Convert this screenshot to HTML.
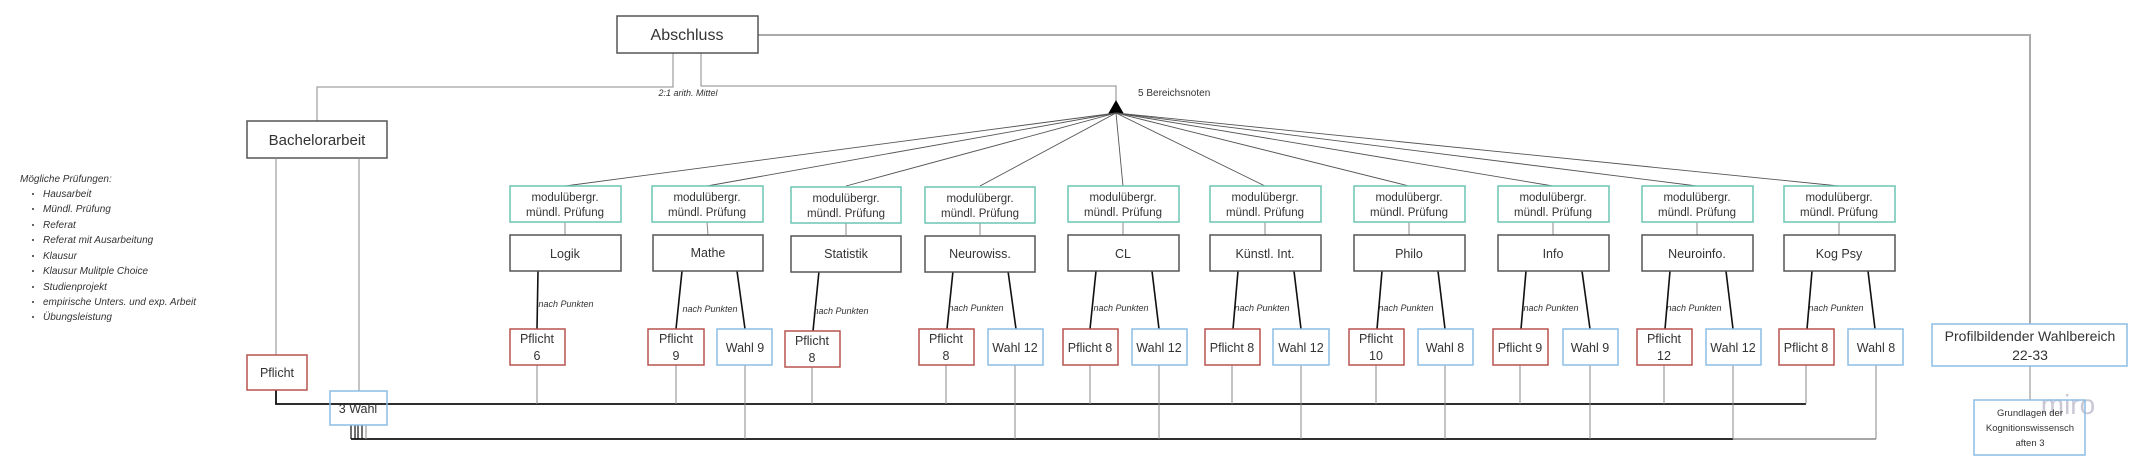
<!DOCTYPE html>
<html><head><meta charset="utf-8"><style>
html,body{margin:0;padding:0;background:#fff;}
svg{display:block;font-family:"Liberation Sans",sans-serif;}
.b{fill:#fff;stroke:#555;stroke-width:1.5}
.t{fill:#fff;stroke:#6cc5b4;stroke-width:1.5}
.r{fill:#fff;stroke:#b85450;stroke-width:1.5}
.u{fill:#fff;stroke:#8cbde6;stroke-width:1.5}
.g{stroke:#888;stroke-width:1;fill:none}
.k{stroke:#111;stroke-width:1.8;fill:none}
.f{stroke:#555;stroke-width:0.9;fill:none}
text{fill:#333;text-anchor:middle}
.m{font-size:12.5px}
.s{font-size:11.5px}
.i{font-size:9px;font-style:italic}
.l{font-size:10px;font-style:italic;text-anchor:start}
</style></head><body>
<svg width="2152" height="464" viewBox="0 0 2152 464">
<polyline class="g" points="758,35 2030,35 2030,324" style="stroke:#aaa;stroke-width:2"/>
<polyline class="g" points="673,53 673,87 317,87 317,121"/>
<polyline class="g" points="701,53 701,86 1116,86 1116,105"/>
<polygon points="1116,100 1108,114 1124,114" fill="#000"/>
<text class="i" x="688" y="96">2:1 arith. Mittel</text>
<text x="1138" y="96" style="font-size:10px;text-anchor:start">5 Bereichsnoten</text>
<g class="f">
<line x1="1116" y1="113" x2="565" y2="186"/><line x1="1116" y1="113" x2="707" y2="186"/>
<line x1="1116" y1="113" x2="846" y2="186"/><line x1="1116" y1="113" x2="980" y2="186"/>
<line x1="1116" y1="113" x2="1123" y2="186"/><line x1="1116" y1="113" x2="1265" y2="186"/>
<line x1="1116" y1="113" x2="1409" y2="186"/><line x1="1116" y1="113" x2="1553" y2="186"/>
<line x1="1116" y1="113" x2="1697" y2="186"/><line x1="1116" y1="113" x2="1839" y2="186"/>
</g>
<rect class="b" x="617" y="16" width="141" height="37"/>
<text x="687" y="40" style="font-size:16px">Abschluss</text>
<rect class="b" x="247" y="121" width="140" height="37"/>
<text x="317" y="145" style="font-size:15px">Bachelorarbeit</text>
<line class="g" x1="276" y1="158" x2="276" y2="355"/>
<line class="g" x1="359" y1="158" x2="359" y2="391"/>
<polyline class="k" points="276,390 276,404 1806,404"/>
<line class="k" x1="351" y1="439" x2="1733" y2="439"/>
<line class="g" x1="1733" y1="439" x2="1876" y2="439" style="stroke:#999;stroke-width:1.8"/>
<g class="k" style="stroke-width:1.2"><line x1="351" y1="425" x2="351" y2="439"/><line x1="355" y1="425" x2="355" y2="439"/><line x1="358" y1="425" x2="358" y2="439"/><line x1="362" y1="425" x2="362" y2="439"/><line x1="366" y1="425" x2="366" y2="439" style="stroke:#999"/></g>
<rect class="r" x="247" y="355" width="60" height="35"/>
<text class="m" x="277" y="377">Pflicht</text>
<rect class="u" x="330" y="391" width="57" height="34" style="fill:none"/>
<text class="m" x="358" y="413">3 Wahl</text>
<text class="l" x="20" y="182">Mögliche Prüfungen:</text>
<g style="font-size:10px;font-style:italic">
<text class="l" x="43" y="197">Hausarbeit</text><text class="l" x="43" y="212">Mündl. Prüfung</text>
<text class="l" x="43" y="228">Referat</text><text class="l" x="43" y="243">Referat mit Ausarbeitung</text>
<text class="l" x="43" y="259">Klausur</text><text class="l" x="43" y="274">Klausur Mulitple Choice</text>
<text class="l" x="43" y="290">Studienprojekt</text><text class="l" x="43" y="305">empirische Unters. und exp. Arbeit</text>
<text class="l" x="43" y="320">Übungsleistung</text>
</g>
<g fill="#333"><circle cx="33" cy="194" r="1"/><circle cx="33" cy="209" r="1"/><circle cx="33" cy="225" r="1"/><circle cx="33" cy="240" r="1"/><circle cx="33" cy="256" r="1"/><circle cx="33" cy="271" r="1"/><circle cx="33" cy="287" r="1"/><circle cx="33" cy="302" r="1"/><circle cx="33" cy="317" r="1"/></g>
<g class="g">
<line x1="537" y1="365" x2="537" y2="404"/>
<line x1="676" y1="365" x2="676" y2="404"/><line x1="745" y1="365" x2="745" y2="439"/>
<line x1="812" y1="367" x2="812" y2="404"/>
<line x1="946" y1="365" x2="946" y2="404"/><line x1="1015" y1="365" x2="1015" y2="439"/>
<line x1="1090" y1="365" x2="1090" y2="404"/><line x1="1159" y1="365" x2="1159" y2="439"/>
<line x1="1232" y1="365" x2="1232" y2="404"/><line x1="1301" y1="365" x2="1301" y2="439"/>
<line x1="1376" y1="365" x2="1376" y2="404"/><line x1="1445" y1="365" x2="1445" y2="439"/>
<line x1="1520" y1="365" x2="1520" y2="404"/><line x1="1590" y1="365" x2="1590" y2="439"/>
<line x1="1664" y1="365" x2="1664" y2="404"/><line x1="1733" y1="365" x2="1733" y2="439"/>
<line x1="1806" y1="365" x2="1806" y2="404"/><line x1="1876" y1="365" x2="1876" y2="439"/>
<line x1="565" y1="222" x2="565" y2="235"/><line x1="707" y1="222" x2="708" y2="235"/>
<line x1="846" y1="222" x2="846" y2="235"/><line x1="980" y1="222" x2="980" y2="235"/>
<line x1="1123" y1="222" x2="1123" y2="235"/><line x1="1265" y1="222" x2="1265" y2="235"/>
<line x1="1409" y1="222" x2="1409" y2="235"/><line x1="1553" y1="222" x2="1553" y2="235"/>
<line x1="1697" y1="222" x2="1697" y2="235"/><line x1="1839" y1="222" x2="1839" y2="235"/>
<line x1="2030" y1="366" x2="2030" y2="400"/>
</g>
<g class="k" style="stroke-width:1.6">
<line x1="538" y1="271" x2="537" y2="329"/>
<line x1="682" y1="271" x2="676" y2="329"/><line x1="737" y1="271" x2="745" y2="329"/>
<line x1="819" y1="271" x2="813" y2="331"/>
<line x1="953" y1="271" x2="947" y2="329"/><line x1="1008" y1="271" x2="1016" y2="329"/>
<line x1="1096" y1="271" x2="1090" y2="329"/><line x1="1152" y1="271" x2="1159" y2="329"/>
<line x1="1238" y1="271" x2="1233" y2="329"/><line x1="1294" y1="271" x2="1301" y2="329"/>
<line x1="1382" y1="271" x2="1377" y2="329"/><line x1="1438" y1="271" x2="1445" y2="329"/>
<line x1="1526" y1="271" x2="1521" y2="329"/><line x1="1582" y1="271" x2="1590" y2="329"/>
<line x1="1670" y1="271" x2="1665" y2="329"/><line x1="1726" y1="271" x2="1733" y2="329"/>
<line x1="1812" y1="271" x2="1807" y2="329"/><line x1="1868" y1="271" x2="1875" y2="329"/>
</g>
<g>
<text class="i" x="566" y="307">nach Punkten</text><text class="i" x="710" y="312">nach Punkten</text>
<text class="i" x="841" y="314">nach Punkten</text><text class="i" x="976" y="311">nach Punkten</text>
<text class="i" x="1121" y="311">nach Punkten</text><text class="i" x="1262" y="311">nach Punkten</text>
<text class="i" x="1406" y="311">nach Punkten</text><text class="i" x="1551" y="311">nach Punkten</text>
<text class="i" x="1694" y="311">nach Punkten</text><text class="i" x="1836" y="311">nach Punkten</text>
</g>
<g>
<rect class="t" x="510" y="186" width="111" height="36"/><rect class="t" x="652" y="186" width="111" height="36"/>
<rect class="t" x="791" y="187" width="110" height="36"/><rect class="t" x="925" y="187" width="110" height="36"/>
<rect class="t" x="1068" y="186" width="111" height="36"/><rect class="t" x="1210" y="186" width="111" height="36"/>
<rect class="t" x="1354" y="186" width="111" height="36"/><rect class="t" x="1498" y="186" width="111" height="36"/>
<rect class="t" x="1642" y="186" width="111" height="36"/><rect class="t" x="1784" y="186" width="111" height="36"/>
</g>
<g>
<text class="s" x="565" y="201">modulübergr.</text><text class="s" x="565" y="216">mündl. Prüfung</text>
<text class="s" x="707" y="201">modulübergr.</text><text class="s" x="707" y="216">mündl. Prüfung</text>
<text class="s" x="846" y="202">modulübergr.</text><text class="s" x="846" y="217">mündl. Prüfung</text>
<text class="s" x="980" y="202">modulübergr.</text><text class="s" x="980" y="217">mündl. Prüfung</text>
<text class="s" x="1123" y="201">modulübergr.</text><text class="s" x="1123" y="216">mündl. Prüfung</text>
<text class="s" x="1265" y="201">modulübergr.</text><text class="s" x="1265" y="216">mündl. Prüfung</text>
<text class="s" x="1409" y="201">modulübergr.</text><text class="s" x="1409" y="216">mündl. Prüfung</text>
<text class="s" x="1553" y="201">modulübergr.</text><text class="s" x="1553" y="216">mündl. Prüfung</text>
<text class="s" x="1697" y="201">modulübergr.</text><text class="s" x="1697" y="216">mündl. Prüfung</text>
<text class="s" x="1839" y="201">modulübergr.</text><text class="s" x="1839" y="216">mündl. Prüfung</text>
</g>
<rect class="b" x="510" y="235" width="111" height="36"/><text class="m" x="565" y="258">Logik</text>
<rect class="b" x="653" y="235" width="110" height="36"/><text class="m" x="708" y="257">Mathe</text>
<rect class="b" x="791" y="236" width="110" height="36"/><text class="m" x="846" y="258">Statistik</text>
<rect class="b" x="925" y="236" width="110" height="36"/><text class="m" x="980" y="258">Neurowiss.</text>
<rect class="b" x="1068" y="235" width="111" height="36"/><text class="m" x="1123" y="258">CL</text>
<rect class="b" x="1210" y="235" width="111" height="36"/><text class="m" x="1265" y="258">Künstl. Int.</text>
<rect class="b" x="1354" y="235" width="111" height="36"/><text class="m" x="1409" y="258">Philo</text>
<rect class="b" x="1498" y="235" width="111" height="36"/><text class="m" x="1553" y="258">Info</text>
<rect class="b" x="1642" y="235" width="111" height="36"/><text class="m" x="1697" y="258">Neuroinfo.</text>
<rect class="b" x="1784" y="235" width="111" height="36"/><text class="m" x="1839" y="258">Kog Psy</text>
<rect class="r" x="510" y="329" width="55" height="36"/><text class="m" x="537" y="343">Pflicht</text><text class="m" x="537" y="360">6</text>
<rect class="r" x="648" y="329" width="56" height="36"/><text class="m" x="676" y="343">Pflicht</text><text class="m" x="676" y="360">9</text>
<rect class="u" x="717" y="329" width="55" height="36"/><text class="m" x="745" y="352">Wahl 9</text>
<rect class="r" x="785" y="331" width="55" height="36"/><text class="m" x="812" y="345">Pflicht</text><text class="m" x="812" y="362">8</text>
<rect class="r" x="919" y="329" width="55" height="36"/><text class="m" x="946" y="343">Pflicht</text><text class="m" x="946" y="360">8</text>
<rect class="u" x="988" y="329" width="55" height="36"/><text class="m" x="1015" y="352">Wahl 12</text>
<rect class="r" x="1063" y="329" width="55" height="36"/><text class="m" x="1090" y="352">Pflicht 8</text>
<rect class="u" x="1132" y="329" width="55" height="36"/><text class="m" x="1159" y="352">Wahl 12</text>
<rect class="r" x="1205" y="329" width="55" height="36"/><text class="m" x="1232" y="352">Pflicht 8</text>
<rect class="u" x="1273" y="329" width="56" height="36"/><text class="m" x="1301" y="352">Wahl 12</text>
<rect class="r" x="1349" y="329" width="55" height="36"/><text class="m" x="1376" y="343">Pflicht</text><text class="m" x="1376" y="360">10</text>
<rect class="u" x="1418" y="329" width="55" height="36"/><text class="m" x="1445" y="352">Wahl 8</text>
<rect class="r" x="1493" y="329" width="55" height="36"/><text class="m" x="1520" y="352">Pflicht 9</text>
<rect class="u" x="1563" y="329" width="55" height="36"/><text class="m" x="1590" y="352">Wahl 9</text>
<rect class="r" x="1637" y="329" width="55" height="36"/><text class="m" x="1664" y="343">Pflicht</text><text class="m" x="1664" y="360">12</text>
<rect class="u" x="1706" y="329" width="55" height="36"/><text class="m" x="1733" y="352">Wahl 12</text>
<rect class="r" x="1779" y="329" width="55" height="36"/><text class="m" x="1806" y="352">Pflicht 8</text>
<rect class="u" x="1848" y="329" width="55" height="36"/><text class="m" x="1876" y="352">Wahl 8</text>
<rect class="u" x="1932" y="324" width="195" height="42"/>
<text x="2030" y="341" style="font-size:14px">Profilbildender Wahlbereich</text>
<text x="2030" y="360" style="font-size:14px">22-33</text>
<text x="2068" y="414" style="font-size:28px;fill:#c9c9d6">miro</text>
<rect class="u" x="1974" y="400" width="111" height="55" style="fill:none"/>
<text x="2030" y="416" style="font-size:9.5px">Grundlagen der</text>
<text x="2030" y="431" style="font-size:9.5px">Kognitionswissensch</text>
<text x="2030" y="446" style="font-size:9.5px">aften 3</text>
</svg>
</body></html>
